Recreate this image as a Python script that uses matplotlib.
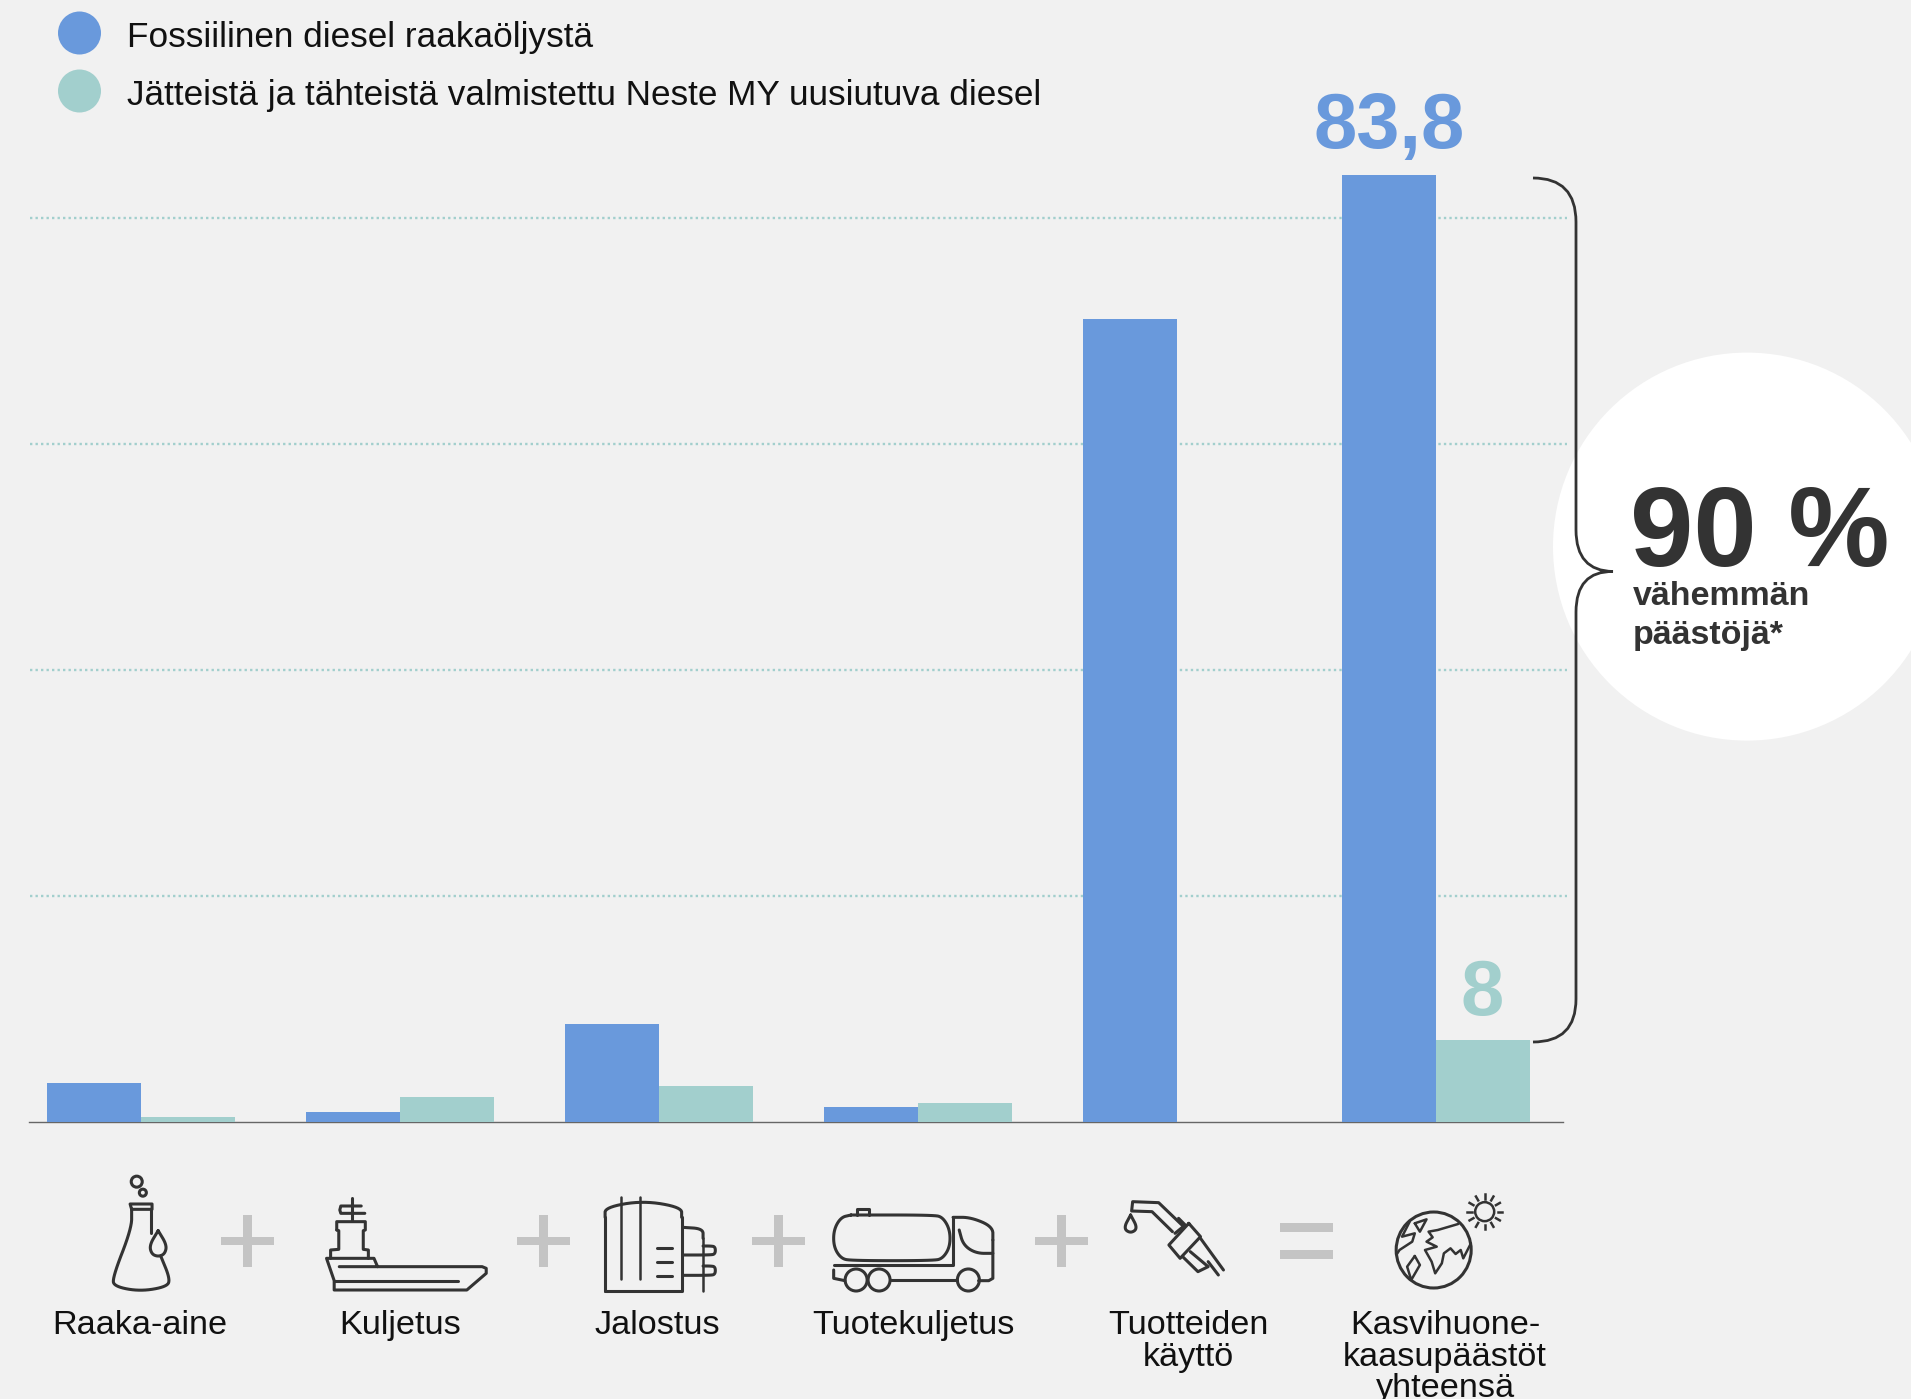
import matplotlib
matplotlib.use('Agg')
import matplotlib.pyplot as plt
import matplotlib.patches as mpatches
from matplotlib.path import Path
import numpy as np

# data
fossil = [3.4, 0.85, 8.65, 1.3, 71.0, 83.8]
renewable = [0.4, 2.15, 3.1, 1.6, 0.0, 7.2]
grid_values = [20, 40, 60, 80]
categories = ['Raaka-aine', 'Kuljetus', 'Jalostus', 'Tuotekuljetus',
              'Tuotteiden\nkäyttö', 'Kasvihuone-\nkaasupäästöt\nyhteensä']
legend_labels = ['Fossiilinen diesel raakaöljystä',
                 'Jätteistä ja tähteistä valmistettu Neste MY uusiutuva diesel']
total_labels = ['83,8', '8']

BG = '#f1f1f1'
BLUE = '#6999dc'
TEAL = '#a2cfcd'
DARK = '#333333'
GREY = '#c4c4c4'
W, H = 1911, 1399

plt.rcParams['font.family'] = ['Liberation Sans', 'DejaVu Sans']

fig = plt.figure(figsize=(W / 100, H / 100), dpi=100, facecolor=BG)

# overlay in pixel coordinates, for everything around the chart
ov = fig.add_axes([0, 0, 1, 1], zorder=1)
ov.set_xlim(0, W)
ov.set_ylim(H, 0)
ov.axis('off')

# ── chart ─────────────────────────────────────────────
base_y = 1121.5
px_per_unit = 11.3
ymax = 95
left, right = 29, 1563
ax = fig.add_axes([left / W, 1 - base_y / H, (right - left) / W, ymax * px_per_unit / H], zorder=2)
ax.patch.set_alpha(0)
x = np.arange(len(fossil))
bw = 0.363
ax.set_xlim(-0.433, 5.49)
ax.set_ylim(0, ymax)
ax.bar(x - bw / 2, fossil, bw, color=BLUE, zorder=3)
ax.bar(x + bw / 2, renewable, bw, color=TEAL, zorder=3)
for g in grid_values:
    ax.plot([-0.43, 5.505], [g, g], color=TEAL, lw=1.7, ls=(0, (1, 1.33)),
            dash_capstyle='butt', zorder=1, clip_on=False)
for s in ['top', 'left', 'right']:
    ax.spines[s].set_visible(False)
ax.spines['bottom'].set_color('#666666')
ax.spines['bottom'].set_linewidth(1.0)
ax.set_xticks([])
ax.set_yticks([])
ax.annotate(total_labels[0], (x[5] - bw / 2, fossil[5]), xytext=(0, 19), textcoords='offset points',
            ha='center', va='baseline', color=BLUE, fontsize=56, fontweight='bold')
ax.annotate(total_labels[1], (x[5] + bw / 2, renewable[5]), xytext=(-1, 18), textcoords='offset points',
            ha='center', va='baseline', color=TEAL, fontsize=56, fontweight='bold')

# ── legend ────────────────────────────────────────────
for y, c, lab in zip([33, 91], [BLUE, TEAL], legend_labels):
    ov.add_patch(mpatches.Circle((79.5, y), 21.5, color=c, lw=0))
    ov.text(127, y + 5, lab, fontsize=25.3, color='#111111', va='center', ha='left')

# ── callout ───────────────────────────────────────────
ov.add_patch(mpatches.Circle((1747, 546.6), 194, color='white', lw=0, zorder=1))
brace = Path(
    [(1533, 178), (1576, 178), (1576, 222), (1576, 530), (1576, 571), (1613, 571.5),
     (1576, 571), (1576, 612), (1576, 999), (1576, 1042), (1533, 1042)],
    [Path.MOVETO, Path.CURVE3, Path.CURVE3, Path.LINETO, Path.CURVE3, Path.CURVE3,
     Path.CURVE3, Path.CURVE3, Path.LINETO, Path.CURVE3, Path.CURVE3])
ov.add_patch(mpatches.PathPatch(brace, fill=False, ec=DARK, lw=2.0, zorder=3))
ov.text(1630, 566, '90 %', fontsize=82, fontweight='bold', color=DARK, va='baseline', ha='left', zorder=4)
ov.text(1633, 605, 'vähemmän', fontsize=24.5, fontweight='bold', color=DARK, va='baseline', ha='left', zorder=4)
ov.text(1633, 644, 'päästöjä*', fontsize=24.5, fontweight='bold', color=DARK, va='baseline', ha='left', zorder=4)

# ── category labels ───────────────────────────────────
label_x = [140, 400, 657, 913, 1188, 1445]
for lx, lab in zip(label_x, categories):
    ov.text(lx, 1310, lab, fontsize=24.7, color='#111111', ha='center', va='top',
            linespacing=1.03, clip_on=True)


# ── icons ─────────────────────────────────────────────
def smooth(pts, n=3):
    p = np.asarray(pts, float)
    for _ in range(n):
        q = [p[0]]
        for a, b in zip(p[:-1], p[1:]):
            q += [0.75 * a + 0.25 * b, 0.25 * a + 0.75 * b]
        q.append(p[-1])
        p = np.array(q)
    return p


def stroke(pts, off=0, round_it=False, lw=2.2, color=DARK):
    # points are noted as seen in the crops: x / 1.96, y / 3
    p = np.asarray(pts, float)
    p = np.c_[p[:, 0] / 1.96 + off, p[:, 1] / 3 + 1130]
    if round_it:
        p = smooth(p)
    ov.plot(p[:, 0], p[:, 1], color=color, lw=lw, solid_capstyle='round', solid_joinstyle='round')


def oval(cx, cy, rx, ry, off=0, lw=2.2):
    ov.add_patch(mpatches.Ellipse((cx / 1.96 + off, cy / 3 + 1130), 2 * rx, 2 * ry, fill=False, ec=DARK, lw=lw))


# flask
oval(268, 155, 5.5, 5.5)
oval(280, 188, 3.5, 3.5)
stroke([(258, 238), (255, 222), (298, 222), (298, 238), (258, 238)])
stroke([(258, 238), (258, 295), (220, 445), (225, 470), (275, 484), (328, 470), (333, 445), (315, 378)], round_it=True)
stroke([(296, 238), (296, 310)])
stroke([(310, 302), (293, 345), (297, 372), (310, 380), (323, 372), (327, 345), (310, 302)], round_it=True)

# ship
stroke([(690, 205), (690, 272)])
stroke([(708, 228), (668, 228), (666, 240), (668, 250), (715, 250)])
stroke([(660, 300), (660, 275), (716, 275), (716, 300), (712, 302), (712, 358), (722, 360), (722, 385)])
stroke([(660, 300), (664, 302), (664, 358), (648, 360), (648, 385)])
stroke([(740, 410), (733, 385), (640, 385), (655, 452), (655, 480), (915, 480), (953, 430), (953, 415), (945, 410), (665, 410)])
stroke([(655, 452), (898, 452)])

# tank
stroke([(1186, 482), (1186, 262)])
stroke([(1186, 262), (1186, 232), (1260, 212), (1336, 232), (1336, 262)], round_it=True)
stroke([(1336, 262), (1336, 482), (1186, 482)])
stroke([(1217, 200), (1217, 448)], lw=1.8)
stroke([(1254, 200), (1254, 448)], lw=1.8)
for ty in [355, 397, 438]:
    stroke([(1288, ty), (1318, ty)])
stroke([(1338, 292), (1378, 296), (1378, 325)], round_it=True)
stroke([(1378, 325), (1378, 484)], lw=1.8)
stroke([(1338, 375), (1392, 375), (1402, 372), (1402, 350), (1392, 348), (1378, 348)], round_it=True)
stroke([(1338, 436), (1392, 436), (1402, 433), (1402, 410), (1392, 408), (1378, 408)], round_it=True)

# truck
stroke([(100, 255), (262, 255), (280, 262), (294, 300), (294, 350), (280, 385), (262, 392), (100, 392),
        (80, 385), (66, 350), (66, 300), (80, 262), (100, 255)], 800, round_it=True)
stroke([(112, 255), (112, 236), (136, 236), (136, 255)], 800)
stroke([(66, 405), (300, 405), (300, 262)], 800)
stroke([(300, 262), (335, 262), (378, 290), (378, 330)], 800, round_it=True)
stroke([(378, 330), (378, 445), (370, 452), (350, 452)], 800)
stroke([(312, 300), (320, 345), (345, 370), (378, 370)], 800, round_it=True)
for wx in [110, 155, 330]:
    oval(wx, 450, 11, 11, 800)
stroke([(178, 450), (308, 450)], 800)
stroke([(66, 420), (66, 445), (88, 452)], 800)

# nozzle
stroke([(730, 305), (690, 245), (650, 243), (652, 215), (703, 218), (752, 290)], 800)
stroke([(742, 265), (755, 285), (735, 310)], 800)
stroke([(762, 280), (785, 320), (745, 385), (723, 345), (762, 280)], 800)
stroke([(785, 325), (830, 420)], 800)
stroke([(750, 380), (780, 425), (800, 410), (765, 365)], 800)
stroke([(800, 395), (820, 435)], 800)
stroke([(648, 255), (634, 295), (648, 310), (662, 295), (648, 255)], 800, round_it=True)

# globe and sun
oval(1242, 360, 37.5, 38, 800)
stroke([(1290, 282), (1250, 300), (1232, 305), (1240, 322), (1228, 335), (1248, 350), (1225, 360), (1238, 395),
        (1245, 430), (1258, 400), (1262, 370), (1275, 355), (1285, 372), (1295, 360), (1300, 385), (1315, 340)], 800, lw=1.8)
stroke([(1205, 280), (1228, 268), (1215, 305), (1205, 280)], 800, lw=1.8)
stroke([(1195, 275), (1180, 320), (1205, 310), (1200, 335), (1175, 360), (1170, 372)], 800, lw=1.8)
stroke([(1205, 378), (1190, 410), (1198, 450), (1215, 405), (1205, 378)], 800, lw=1.8)
sun = (1342 / 1.96 + 800, 245 / 3 + 1130)
ov.add_patch(mpatches.Circle(sun, 9.5, fill=False, ec=DARK, lw=1.8))
for a in np.deg2rad(np.arange(0, 360, 30)):
    ov.plot([sun[0] + 13 * np.cos(a), sun[0] + 17.5 * np.cos(a)],
            [sun[1] + 13 * np.sin(a), sun[1] + 17.5 * np.sin(a)], color=DARK, lw=1.8)

# plus and equals signs
for cx in [247, 543, 778, 1061]:
    ov.add_patch(mpatches.Rectangle((cx - 26.5, 1237), 53, 8, color=GREY, lw=0))
    ov.add_patch(mpatches.Rectangle((cx - 4.5, 1215), 9, 52, color=GREY, lw=0))
ov.add_patch(mpatches.Rectangle((1280, 1223), 53, 8.5, color=GREY, lw=0))
ov.add_patch(mpatches.Rectangle((1280, 1250), 53, 8.5, color=GREY, lw=0))

fig.savefig('out.png', dpi=100, facecolor=BG)
